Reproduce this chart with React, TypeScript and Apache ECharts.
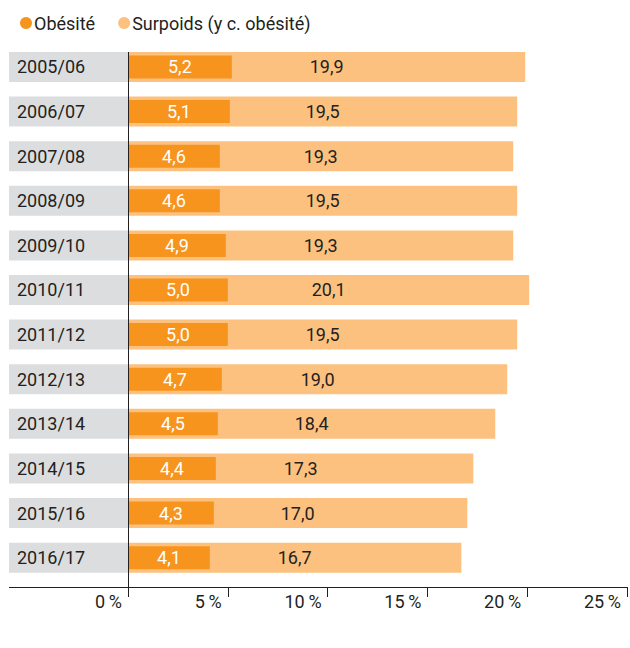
import React, { useEffect, useRef } from "react";
import * as echarts from "echarts";

const categories = [
  "2005/06", "2006/07", "2007/08", "2008/09", "2009/10", "2010/11",
  "2011/12", "2012/13", "2013/14", "2014/15", "2015/16", "2016/17",
];
const obesite = [5.2, 5.1, 4.6, 4.6, 4.9, 5.0, 5.0, 4.7, 4.5, 4.4, 4.3, 4.1];
const surpoids = [19.9, 19.5, 19.3, 19.5, 19.3, 20.1, 19.5, 19.0, 18.4, 17.3, 17.0, 16.7];
const xTicks = { min: 0, max: 25, interval: 5 };

const FONT = "Roboto, 'DejaVu Sans', sans-serif";
const TEXT = "#231f20";
const DARK = "#f7941d";
const LIGHT = "#fcc17f";
const GRAY = "#dcdddf";
const FS = 18;

const fmt = (v: number) => v.toFixed(1).replace(".", ",");

export default function App() {
  const ref = useRef<HTMLDivElement>(null);
  useEffect(() => {
    if (!ref.current) return;
    const chart = echarts.init(ref.current, undefined, { renderer: "svg" });
    chart.setOption({
      animation: false,
      textStyle: { fontFamily: FONT },
      legend: {
        data: ["Obésité", "Surpoids (y c. obésité)"],
        left: 15,
        top: 9,
        icon: "circle",
        itemWidth: 12,
        itemHeight: 12,
        itemGap: 23,
        textStyle: { fontSize: FS, color: TEXT, fontFamily: FONT, padding: [0, 0, 0, -3] },
      },
      grid: { left: 128, right: 1.5, top: 44.6, bottom: 68, containLabel: false },
      xAxis: {
        type: "value",
        min: xTicks.min,
        max: xTicks.max,
        interval: xTicks.interval,
        offset: 7,
        axisLine: { show: true, lineStyle: { color: TEXT, width: 1 } },
        axisTick: { show: true, length: 10, lineStyle: { color: TEXT, width: 1 } },
        splitLine: { show: false },
        axisLabel: {
          formatter: (v: number) => v + "\u2009%",
          align: "right",
          padding: [0, 6, 0, 0],
          margin: 5,
          fontSize: FS,
          lineHeight: 18,
          color: TEXT,
          fontFamily: FONT,
        },
      },
      yAxis: [
        {
          type: "category",
          data: categories,
          inverse: true,
          axisLine: { show: false },
          axisTick: { show: false },
          axisLabel: {
            align: "left",
            verticalAlign: "middle",
            margin: 119,
            width: 111,
            height: 30,
            lineHeight: 30,
            padding: [0, 0, 0, 8],
            backgroundColor: GRAY,
            fontSize: FS,
            color: TEXT,
            fontFamily: FONT,
            overflow: "none",
          },
        },
        {
          type: "category",
          data: categories,
          inverse: true,
          show: false,
        },
      ],
      series: [
        {
          name: "Surpoids (y c. obésité)",
          type: "bar",
          yAxisIndex: 0,
          data: surpoids,
          barWidth: 30,
          itemStyle: { color: LIGHT },
          label: {
            show: true,
            position: "inside",
            formatter: (p: any) => fmt(p.value),
            color: TEXT,
            fontSize: FS,
            fontFamily: FONT,
          },
        },
        {
          name: "Obésité",
          type: "bar",
          yAxisIndex: 1,
          data: obesite,
          barWidth: 23,
          itemStyle: { color: DARK },
          label: {
            show: true,
            position: "inside",
            formatter: (p: any) => fmt(p.value),
            color: "#ffffff",
            fontSize: FS,
            fontFamily: FONT,
          },
        },
      ],
      graphic: [
        {
          type: "line",
          shape: { x1: 9, y1: 587.5, x2: 128, y2: 587.5 },
          style: { stroke: TEXT, lineWidth: 1 },
          z: 10,
        },
        {
          type: "line",
          shape: { x1: 128.5, y1: 52, x2: 128.5, y2: 597 },
          style: { stroke: TEXT, lineWidth: 1 },
          z: 10,
        },
      ],
    });
    return () => chart.dispose();
  }, []);
  return (
    <div
      ref={ref}
      style={{ position: "absolute", left: 0, top: 0, width: 630, height: 648 }}
    />
  );
}
